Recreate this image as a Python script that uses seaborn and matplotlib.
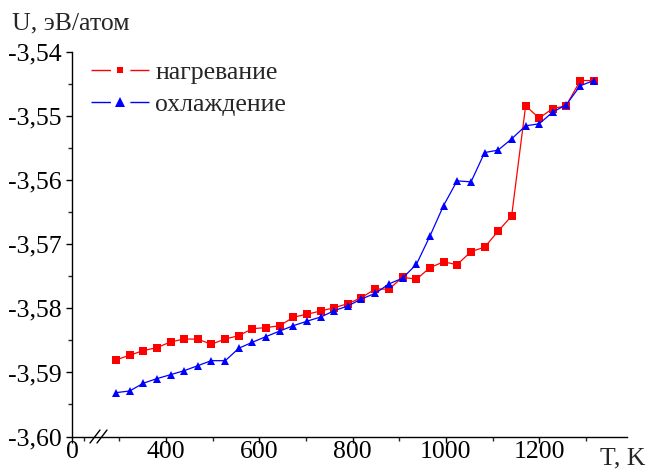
import numpy as np
import pandas as pd
import seaborn as sns
import matplotlib
matplotlib.use("Agg")
import matplotlib.pyplot as plt
from matplotlib import font_manager as fm
from matplotlib.lines import Line2D
from matplotlib.ticker import FixedLocator, FuncFormatter

# Temperature grid, K
temperature = [292, 322, 351, 380, 410, 439, 468, 497, 527, 556, 585, 614,
               644, 673, 702, 732, 761, 790, 819, 849, 878, 907, 937, 966,
               995, 1024, 1054, 1083, 1112, 1141, 1171, 1200, 1229, 1258,
               1288, 1317]

# Potential energy per atom, eV
u_heating = [-3.58805, -3.58731, -3.58659, -3.58613, -3.58523, -3.58477,
             -3.58481, -3.58559, -3.58477, -3.58425, -3.58316, -3.58300,
             -3.58269, -3.58137, -3.58091, -3.58039, -3.57988, -3.57925,
             -3.57831, -3.57695, -3.57700, -3.57513, -3.57544, -3.57362,
             -3.57273, -3.57316, -3.57112, -3.57044, -3.56794, -3.56555,
             -3.54836, -3.55028, -3.54878, -3.54836, -3.54441, -3.54441]

u_cooling = [-3.59316, -3.59289, -3.59169, -3.59097, -3.59034, -3.58972,
             -3.58894, -3.58816, -3.58816, -3.58622, -3.58528, -3.58441,
             -3.58352, -3.58269, -3.58200, -3.58133, -3.58034, -3.57961,
             -3.57852, -3.57763, -3.57617, -3.57528, -3.57309, -3.56867,
             -3.56394, -3.56008, -3.56023, -3.55566, -3.55528, -3.55352,
             -3.55148, -3.55117, -3.54934, -3.54820, -3.54523, -3.54441]

series_names = ["нагревание", "охлаждение"]
series_colors = ["#ff0000", "#0000ff"]
series_markers = ["s", "^"]

x_major = [400, 600, 800, 1000, 1200]
x_minor = [300, 500, 700, 900, 1100, 1300]
y_major = [-3.60, -3.59, -3.58, -3.57, -3.56, -3.55, -3.54]
y_minor = [-3.595, -3.585, -3.575, -3.565, -3.555, -3.545]

df = pd.DataFrame({
    "T": temperature * 2,
    "U": u_heating + u_cooling,
    "mode": [series_names[0]] * len(temperature) + [series_names[1]] * len(temperature),
})

sns.set_theme(style="ticks")

# pick a Times-like serif face that is actually installed
installed = {f.name for f in fm.fontManager.ttflist}
serif_face = next((n for n in ["Liberation Serif", "Times New Roman", "Tinos",
                               "Nimbus Roman", "DejaVu Serif"] if n in installed),
                  "serif")
plt.rcParams["font.family"] = [serif_face, "DejaVu Serif"]
plt.rcParams["font.serif"] = [serif_face, "DejaVu Serif"]
plt.rcParams["axes.unicode_minus"] = False
plt.rcParams["lines.scale_dashes"] = False
fprop = fm.FontProperties(family=serif_face, size=18.5)

fig = plt.figure(figsize=(6.49, 4.73), dpi=100)
ax = fig.add_axes([72.3 / 649, 36.5 / 473, 555 / 649, 384.2 / 473])

palette = dict(zip(series_names, series_colors))
markers = dict(zip(series_names, series_markers))
sns.lineplot(data=df, x="T", y="U", hue="mode", style="mode",
             palette=palette, markers=markers, dashes=False,
             linewidth=0.9, markersize=5.8, markeredgewidth=0,
             legend=False, sort=False, ax=ax)

# broken axis: the left end stands for 0, then the scale resumes near 300 K
x_left = 199.0
ax.set_xlim(x_left, 1389)
ax.set_ylim(-3.60, -3.54)

ax.xaxis.set_major_locator(FixedLocator([x_left] + x_major))
ax.xaxis.set_minor_locator(FixedLocator([225] + x_minor))
ax.xaxis.set_major_formatter(FuncFormatter(
    lambda v, p: "0" if abs(v - x_left) < 1 else f"{v:.0f}"))
ax.yaxis.set_major_locator(FixedLocator(y_major))
ax.yaxis.set_minor_locator(FixedLocator(y_minor))
ax.yaxis.set_major_formatter(FuncFormatter(
    lambda v, p: f"{v:.2f}".replace(".", ",")))

for side in ["top", "right"]:
    ax.spines[side].set_visible(False)
for side in ["left", "bottom"]:
    ax.spines[side].set_linewidth(1.0)
    ax.spines[side].set_color("black")

ax.tick_params(axis="both", which="major", length=4.6, width=1.0,
               direction="out", labelsize=18.5, colors="black")
ax.tick_params(axis="both", which="minor", length=2.8, width=1.0,
               direction="out")
ax.tick_params(axis="x", which="major", pad=-1.5)
ax.tick_params(axis="y", which="major", pad=3.0)
for lbl in ax.get_xticklabels() + ax.get_yticklabels():
    lbl.set_fontproperties(fprop)
ax.set_xlabel("")
ax.set_ylabel("")

# axis break marks
for dx in (0.0, 7.0):
    x0 = (90 + dx) / 649
    fig.add_artist(Line2D([x0, x0 + 10 / 649], [(473 - 443) / 473, (473 - 430) / 473],
                          color="black", linewidth=1.0, transform=fig.transFigure))

# axis titles
fig.text(12 / 649, 1 - 23 / 473, "U, эВ/атом", fontproperties=fprop,
         ha="left", va="center")
fig.text(645 / 649, 1 - 458 / 473, "T, K", fontproperties=fprop,
         ha="right", va="center")

# legend with a gap in the line around each marker
handles = [
    Line2D([], [], color=c, marker=m, markersize=5.0 if m == "s" else 6.5,
           markeredgewidth=0, linewidth=1.0, linestyle=(0, (14, 14)))
    for c, m in zip(series_colors, series_markers)
]
ax.legend(handles, series_names, loc="upper left",
          bbox_to_anchor=(8 / 555, 1 + 2 / 384.2), frameon=False,
          prop=fprop, handlelength=42 / 18.5, handletextpad=0.25,
          labelspacing=0.35, borderaxespad=0, numpoints=1)

fig.savefig("out.png", dpi=100)
